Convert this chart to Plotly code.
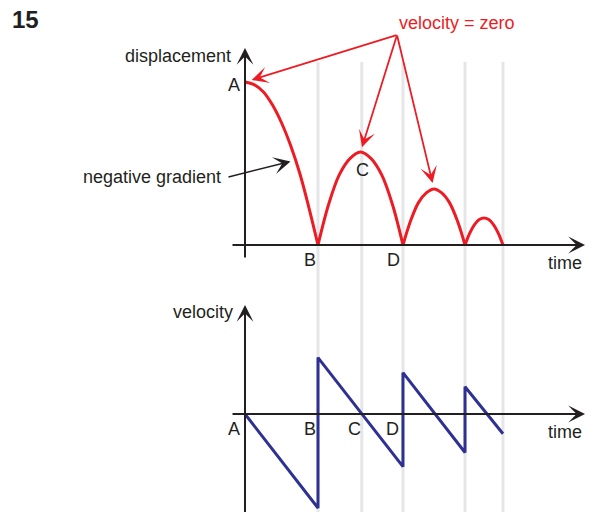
import plotly.graph_objects as go

W, H = 595, 512

# Displacement of the bouncing ball: four free-flight arcs (time, height)
arc1_time = [0.0, 0.125, 0.25, 0.375, 0.5, 0.625, 0.75, 0.875, 1.0]
arc1_height = [1.0, 0.984, 0.94, 0.86, 0.75, 0.61, 0.44, 0.23, 0.0]
arc2_time = [1.0, 1.146, 1.291, 1.437, 1.582, 1.728, 1.873, 2.019, 2.164]
arc2_height = [0.0, 0.25, 0.43, 0.53, 0.57, 0.53, 0.43, 0.25, 0.0]
arc3_time = [2.164, 2.270, 2.376, 2.483, 2.589, 2.695, 2.801, 2.908, 3.014]
arc3_height = [0.0, 0.15, 0.26, 0.32, 0.344, 0.32, 0.26, 0.15, 0.0]
arc4_time = [3.014, 3.079, 3.144, 3.209, 3.274, 3.339, 3.404, 3.469, 3.534]
arc4_height = [0.0, 0.073, 0.125, 0.156, 0.166, 0.156, 0.125, 0.073, 0.0]

# Velocity: constant downward gradient, reversing at each bounce
vel_time = [0.0, 1.0, 1.0, 2.164, 2.164, 3.014, 3.014, 3.534]
vel_value = [0.0, -1.0, 0.60, -0.56, 0.44, -0.41, 0.29, -0.21]

# Instants marked with grey guide lines (B, C, D, third bounce, end)
guide_times = [1.0, 1.6, 2.164, 3.014, 3.534]
label_time = {"A": 0.0, "B": 1.0, "C": 1.6, "D": 2.164}

RED = "#ed1c24"
BLUE = "#2e3192"
INK = "#231f20"
GUIDE = "#e6e6e8"
FONT = "Liberation Sans, Arial, sans-serif"

# Frame of the drawing in page pixels
T_ORIGIN_PX, T_SCALE = 245, 73
TOP_BASE_PX, H_SCALE = 245, 163
BOT_BASE_PX, V_SCALE = 414, 94

x_range = [-T_ORIGIN_PX / T_SCALE, (W - T_ORIGIN_PX) / T_SCALE]
y_range = [-(H - TOP_BASE_PX) / H_SCALE, TOP_BASE_PX / H_SCALE]
y2_range = [-(H - BOT_BASE_PX) / V_SCALE, BOT_BASE_PX / V_SCALE]


def paper(px, py):
    return px / W, 1 - py / H


fig = go.Figure()

arcs = [(arc1_time, arc1_height), (arc2_time, arc2_height),
        (arc3_time, arc3_height), (arc4_time, arc4_height)]
for t, h in arcs:
    fig.add_trace(go.Scatter(
        x=t, y=h, mode="lines", yaxis="y",
        line=dict(color=RED, width=3, shape="spline"),
        hoverinfo="skip", showlegend=False,
    ))

fig.add_trace(go.Scatter(
    x=vel_time, y=vel_value, mode="lines", yaxis="y2",
    line=dict(color=BLUE, width=3),
    hoverinfo="skip", showlegend=False,
))

# grey guide lines running through both graphs
for t in guide_times:
    fig.add_shape(type="line", xref="x", yref="paper",
                  x0=t, x1=t, y0=0, y1=1 - 62 / H,
                  line=dict(color=GUIDE, width=3), layer="below")


def arrow(x, y, ax, ay, yref, color, width, size, standoff=0):
    return dict(x=x, y=y, ax=ax, ay=ay, xref="x", yref=yref,
                axref="x", ayref=yref, text="", showarrow=True,
                arrowhead=3, arrowsize=size, arrowwidth=width,
                arrowcolor=color, standoff=standoff,
                font=dict(size=1), borderpad=0)


def label(text, x, y, xref="x", yref="y", xshift=0, yshift=0,
          xanchor="center", color=INK, size=18, bold=False):
    return dict(text=f"<b>{text}</b>" if bold else text, x=x, y=y,
                xref=xref, yref=yref, xshift=xshift, yshift=yshift,
                xanchor=xanchor, yanchor="middle", showarrow=False,
                font=dict(family=FONT, size=size, color=color))


t_left = -13 / T_SCALE
t_right = (585 - T_ORIGIN_PX) / T_SCALE
ann = [
    # axes
    arrow(0, 197 / H_SCALE, 0, -13 / H_SCALE, "y", INK, 2, 1.4),
    arrow(t_right, 0, t_left, 0, "y", INK, 2, 1.4),
    arrow(0, 109 / V_SCALE, 0, y2_range[0] - 0.05, "y2", INK, 2, 1.4),
    arrow(t_right, 0, t_left, 0, "y2", INK, 2, 1.4),
]

# "velocity = zero" pointers to the tops of the arcs
tail_t = (397 - T_ORIGIN_PX) / T_SCALE
tail_h = (TOP_BASE_PX - 35) / H_SCALE
for (t, h), so in zip([(arc1_time[0], arc1_height[0]),
                       (arc2_time[4], arc2_height[4]),
                       (arc3_time[4], arc3_height[4])], [7, 5, 6]):
    ann.append(arrow(t, h, tail_t, tail_h, "y", RED, 1.8, 1.55, so))

# "negative gradient" pointer onto the first arc
ann.append(arrow(0.69, 0.52, -0.233, 0.417, "y", INK, 1.5, 1.9, 5))

x15, y15 = paper(10, 19)
ann.append(label("15", x15, y15, "paper", "paper", xanchor="left",
                 size=24, bold=True))
xd, yd = paper(233, 56)
ann.append(label("displacement", xd, yd, "paper", "paper", xanchor="right"))
xv, yv = paper(235, 312)
ann.append(label("velocity", xv, yv, "paper", "paper", xanchor="right"))
xz, yz = paper(457, 23)
ann.append(label("velocity = zero", xz, yz, "paper", "paper", color=RED))
xn, yn = paper(223, 177)
ann.append(label("negative gradient", xn, yn, "paper", "paper",
                 xanchor="right"))
xt, yt = paper(565, 263)
ann.append(label("time", xt, yt, "paper", "paper"))
xt2, yt2 = paper(565, 432)
ann.append(label("time", xt2, yt2, "paper", "paper"))

# point labels on the displacement graph
ann.append(label("A", label_time["A"], arc1_height[0], "x", "y",
                 xshift=-3, yshift=-3, xanchor="right"))
ann.append(label("B", label_time["B"], 0, "x", "y", xshift=-8, yshift=-15))
ann.append(label("C", label_time["C"], arc2_height[4], "x", "y",
                 xshift=1, yshift=-18))
ann.append(label("D", label_time["D"], 0, "x", "y", xshift=-9, yshift=-15))

# point labels on the velocity graph
ann.append(label("A", label_time["A"], 0, "x", "y2", xshift=-11, yshift=-15))
ann.append(label("B", label_time["B"], 0, "x", "y2", xshift=-8, yshift=-15))
ann.append(label("C", label_time["C"], 0, "x", "y2", xshift=-7, yshift=-15))
ann.append(label("D", label_time["D"], 0, "x", "y2", xshift=-10, yshift=-15))

fig.update_layout(
    width=W, height=H,
    margin=dict(l=0, r=0, t=0, b=0, pad=0),
    paper_bgcolor="white", plot_bgcolor="white",
    showlegend=False,
    xaxis=dict(visible=False, range=x_range, fixedrange=True),
    yaxis=dict(visible=False, range=y_range, fixedrange=True),
    yaxis2=dict(visible=False, range=y2_range, overlaying="y",
                fixedrange=True),
    annotations=ann,
)

fig.write_html("out.html", config={"displayModeBar": False})
